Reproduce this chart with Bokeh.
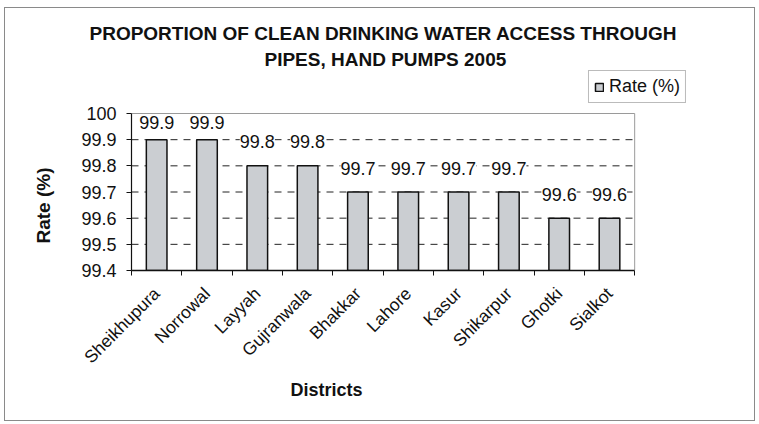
import math
from bokeh.plotting import figure
from bokeh.models import (Range1d, FixedTicker, CustomJSTickFormatter, Legend,
                          LegendItem, ColumnDataSource, LabelSet, Title)
from bokeh.core.properties import value
from bokeh.embed import file_html
from bokeh.resources import INLINE

districts = ["Sheikhupura", "Norrowal", "Layyah", "Gujranwala", "Bhakkar",
             "Lahore", "Kasur", "Shikarpur", "Ghotki", "Sialkot"]
rates = [99.9, 99.9, 99.8, 99.8, 99.7, 99.7, 99.7, 99.7, 99.6, 99.6]
y_ticks = [99.4, 99.5, 99.6, 99.7, 99.8, 99.9, 100.0]
title_lines = ["PROPORTION OF CLEAN DRINKING WATER ACCESS THROUGH",
               "PIPES, HAND PUMPS 2005"]
x_title = "Districts"
y_title = "Rate (%)"
series_name = "Rate (%)"

FONT = "Liberation Sans"
INK = "#111111"
y0, y1 = y_ticks[0], y_ticks[-1]
n = len(districts)
centers = [i + 0.5 for i in range(n)]
bounds = [float(i) for i in range(n + 1)]
# labels near the top of the plot area are pulled down a little (as Excel does)
label_off = [17 if r > y1 - 0.15 else 24 for r in rates]

# the drawing frame is a bit larger than the plot area so the legend fits in it
FRAME_X_END = n * 1.103
FRAME_Y_END = y1 + (y1 - y0) * 0.274

src = ColumnDataSource(dict(x=centers, top=rates, lbl=[f"{r:.1f}" for r in rates],
                            off=label_off))

p = figure(width=751, height=414, output_backend="svg", toolbar_location=None,
           x_range=Range1d(0, FRAME_X_END), y_range=Range1d(y0, FRAME_Y_END),
           min_border_left=126, min_border_right=70, min_border_top=62,
           min_border_bottom=152)
p.title = None
p.styles = {"border": "1px solid #8a8a8a", "margin-left": "4px", "margin-top": "7px"}
p.outline_line_color = None
p.xgrid.visible = False
p.ygrid.visible = False

# dashed gridlines inside the plot area
grid_y = y_ticks[1:-1]
p.multi_line(xs=[[0, n] for _ in grid_y], ys=[[g, g] for g in grid_y],
             line_color="#222222", line_dash="7 6", line_width=1)
# plot-area border (top and right)
p.multi_line(xs=[[0, n], [n, n]], ys=[[y1, y1], [y0, y1]],
             line_color="#9a9a9a", line_width=1)

bars = p.vbar(x="x", top="top", bottom=y0, width=0.41, source=src,
              fill_color="#cbced2", line_color=INK, line_width=1.5)

labels = LabelSet(x="x", y="top", text="lbl", source=src, text_align="center",
                  text_baseline="middle", y_offset="off", text_font=value(FONT),
                  text_font_size="18px", text_color=INK,
                  background_fill_color="white")
p.add_layout(labels)

legend = Legend(items=[LegendItem(label=series_name, renderers=[bars])],
                location="top_right", orientation="vertical",
                label_text_font=FONT, label_text_font_size="18px",
                label_text_color=INK, glyph_width=10, glyph_height=10,
                padding=5, margin=0, label_standoff=5,
                border_line_color="#777777", border_line_width=1,
                background_fill_color="white", background_fill_alpha=1)
p.add_layout(legend, "center")

# title lines (first added = closest to the frame)
t2 = Title(text=title_lines[1], align="left", offset=133, text_font=FONT,
           text_font_size="19px", text_font_style="bold", text_color=INK, standoff=2)
t1 = Title(text=title_lines[0], align="left", offset=-42, text_font=FONT,
           text_font_size="19px", text_font_style="bold", text_color=INK, standoff=3)
p.add_layout(t2, "above")
p.add_layout(t1, "above")

# x axis
p.xaxis.bounds = (0, n)
p.xaxis.ticker = FixedTicker(ticks=centers, minor_ticks=bounds)
p.xaxis.major_label_overrides = {c: d for c, d in zip(centers, districts)}
p.xaxis.major_label_orientation = math.pi / 4
p.xaxis.major_tick_line_color = None
p.xaxis.minor_tick_out = 5
p.xaxis.minor_tick_in = 0
p.xaxis.minor_tick_line_color = INK
p.xaxis.axis_line_color = INK
p.xaxis.axis_line_width = 1.5
p.xaxis.major_label_text_font = FONT
p.xaxis.major_label_text_font_size = "17.5px"
p.xaxis.major_label_text_color = INK
p.xaxis.major_label_standoff = 14
xt = Title(text=x_title, align="left", offset=159, text_font=FONT,
           text_font_size="18px", text_font_style="bold", text_color=INK, standoff=0)
p.add_layout(xt, "below")

# y axis
p.yaxis.bounds = (y0, y1)
p.yaxis.ticker = FixedTicker(ticks=y_ticks, minor_ticks=[])
p.yaxis.formatter = CustomJSTickFormatter(
    code="return tick > 99.95 ? tick.toFixed(0) : tick.toFixed(1);")
p.yaxis.major_tick_out = 5
p.yaxis.major_tick_in = 0
p.yaxis.major_tick_line_color = INK
p.yaxis.axis_line_color = INK
p.yaxis.axis_line_width = 1.2
p.yaxis.major_label_text_font = FONT
p.yaxis.major_label_text_font_size = "18px"
p.yaxis.major_label_text_color = INK
p.yaxis.major_label_standoff = 10
yt = Title(text=y_title, align="left", offset=27, text_font=FONT,
           text_font_size="19px", text_font_style="bold", text_color=INK, standoff=49)
p.add_layout(yt, "left")

open("out.html", "w").write(file_html(p, INLINE))
